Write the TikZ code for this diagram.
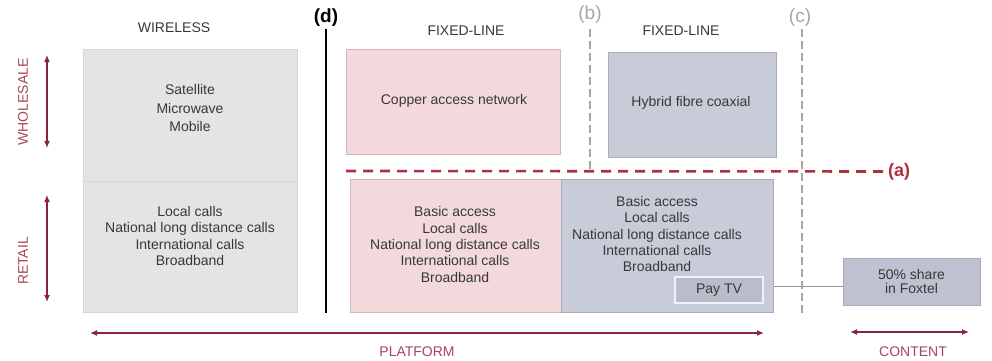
\documentclass[tikz,border=0pt]{standalone}
\usepackage{fontspec}
\setmainfont{Liberation Sans}
\usepackage{tikz}
\usetikzlibrary{arrows.meta}
\definecolor{wlgrey}{HTML}{E4E4E4}
\definecolor{cupink}{HTML}{F4D9DC}
\definecolor{hfcblue}{HTML}{C8CCD9}
\definecolor{tvblue}{HTML}{B8BCCB}
\definecolor{axisred}{HTML}{8A2438}
\definecolor{labelred}{HTML}{A84556}
\definecolor{cutred}{HTML}{B0303F}
\definecolor{cutgrey}{HTML}{A6A6A6}
\definecolor{txtgrey}{HTML}{383838}
\tikzset{cell/.style={rectangle,inner sep=0,anchor=south west,line width=0.6pt}}
\tikzset{body/.style={text=txtgrey,align=center,inner sep=0,font=\fontsize{14}{16.3}\selectfont}}
\tikzset{head/.style={text=txtgrey,inner sep=0,font=\fontsize{14}{16}\selectfont}}
\tikzset{axis/.style={draw=axisred,line width=1.6pt,<->,>={Latex[length=7pt,width=6pt]}}}
\tikzset{axis label/.style={text=labelred,inner sep=0,font=\fontsize{14}{16}\selectfont}}
\tikzset{cut/.style={draw=cutgrey,line width=2pt,dash pattern=on 8pt off 4pt}}
\def\lsp#1#2{\fontsize{#1}{#2}\selectfont}

\begin{document}
\begin{tikzpicture}[auto]
      \useasboundingbox (0,0) rectangle (992pt,360pt);

      %WIRELESS
      \node[head] (wl) at (174pt,332pt) {WIRELESS};
      \node[cell,fill=wlgrey,draw=black!16,minimum width=214pt,minimum height=132pt] (wlwhole) at (83pt,178pt) {};
      \node[cell,fill=wlgrey,draw=black!16,minimum width=214pt,minimum height=131pt] (wlret) at (83pt,47pt) {};
      \node[body,font=\lsp{14}{18.5}] (wlwholetxt) at (190pt,252pt) {Satellite\\Microwave\\Mobile};
      \node[body] (wlrettxt) at (190pt,124pt) {Local calls\\National long distance calls\\International calls\\Broadband};

      %(d)
      \node[inner sep=0,font=\lsp{19}{20}\bfseries] (d) at (326pt,342pt) {(d)};
      \draw[line width=2.6pt] (326pt,331pt) -- (326pt,47pt);

      %FIXED-LINE (copper)
      \node[head] (fl1) at (466pt,329pt) {FIXED-LINE};
      \node[cell,fill=cupink,draw=cupink!85!black,minimum width=214pt,minimum height=105pt] (cuwhole) at (346pt,205pt) {};
      \node[body] (cuwholetxt) at (454pt,259pt) {Copper access network};
      \node[cell,fill=cupink,draw=cupink!85!black,minimum width=211pt,minimum height=133pt] (curet) at (350pt,47pt) {};
      \node[body] (curettxt) at (455pt,115.5pt) {Basic access\\Local calls\\National long distance calls\\International calls\\Broadband};

      %FIXED-LINE (HFC)
      \node[head] (fl2) at (681pt,329pt) {FIXED-LINE};
      \node[cell,fill=hfcblue,draw=hfcblue!85!black,minimum width=168pt,minimum height=105pt] (hfcwhole) at (608pt,202pt) {};
      \node[body] (hfcwholetxt) at (691pt,257pt) {Hybrid fibre coaxial};
      \node[cell,fill=hfcblue,draw=hfcblue!85!black,minimum width=212pt,minimum height=133pt] (hfcret) at (561pt,47pt) {};
      \node[body] (hfcrettxt) at (657pt,126pt) {Basic access\\Local calls\\National long distance calls\\International calls\\Broadband};
      \node[rectangle,fill=tvblue,draw=white!75!hfcblue,line width=1.2pt,minimum width=88pt,minimum height=26pt,body] (paytv) at (719pt,70pt) {Pay TV};

      %CONTENT
      \node[rectangle,fill=tvblue!92!white,draw=tvblue!90!black,line width=0.5pt,minimum width=137pt,minimum height=47pt,body,font=\lsp{14}{14.5}] (foxtel) at (911.5pt,78.5pt) {50\% share\\in Foxtel};
      \draw[draw=cutgrey!90!black,line width=1pt] (hfcret.east |- 0,74pt) -- (foxtel.west |- 0,74pt);

      %(b),(c)
      \node[inner sep=0,text=cutgrey,font=\lsp{19}{20}] (b) at (590pt,345pt) {(b)};
      \node[inner sep=0,text=cutgrey,font=\lsp{19}{20}] (c) at (800pt,342pt) {(c)};
      \draw[cut] (590pt,331pt) -- (590pt,189pt);
      \draw[cut] (802pt,331pt) -- (802pt,45pt);

      %(a)
      \node[inner sep=0,text=cutred,font=\lsp{18}{20}\bfseries] (a) at (899pt,188.5pt) {(a)};
      \coordinate (aleft) at (346pt,189pt);
      \draw[draw=cutred,line width=2.6pt,dash pattern=on 10pt off 7pt] (aleft) -- (a.west);

      %axes
      \node[axis label,rotate=90] (ws) at (23pt,258pt) {WHOLESALE};
      \node[axis label,rotate=90] (rt) at (23pt,99pt) {RETAIL};
      \draw[axis] (47pt,305pt) -- (47pt,212pt);
      \draw[axis] (47pt,165pt) -- (47pt,58pt);
      \node[axis label] (pf) at (417pt,8pt) {PLATFORM};
      \node[axis label] (ct) at (913pt,8pt) {CONTENT};
      \draw[axis] (90pt,27pt) -- (764pt,27pt);
      \draw[axis] (850pt,28pt) -- (969pt,28pt);

    \end{tikzpicture}
\end{document}
